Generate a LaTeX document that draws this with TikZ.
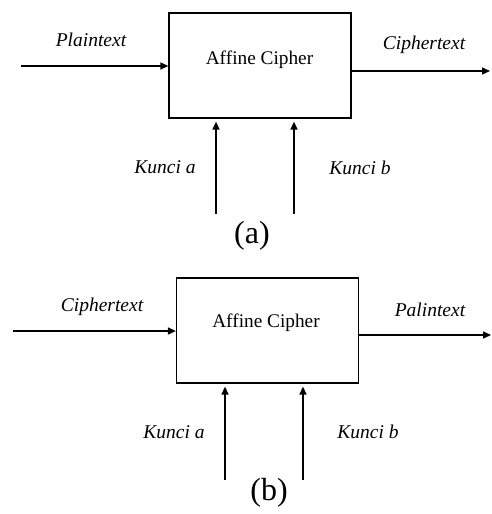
\documentclass[tikz,border=0pt]{standalone}
\usepackage{fontspec}
\setmainfont{Liberation Serif}
\usetikzlibrary{arrows.meta}
\begin{document}
\begin{tikzpicture}[x=1pt,y=-1pt,
  blk/.style={draw,line width=1.2pt,minimum width=182pt,minimum height=105pt,inner sep=0pt},
  arr/.style={line width=1.5pt,-{Triangle[length=8pt,width=7pt]}},
  lbl/.style={font=\fontsize{19.5}{22}\selectfont\itshape,inner sep=0pt},
  ttl/.style={font=\fontsize{19.3}{22}\selectfont,inner sep=0pt},
  subcap/.style={font=\fontsize{32}{36}\selectfont,inner sep=0pt}]
\useasboundingbox (0,0) rectangle (491,514);
% (a)
\node[blk] (boxA) at (260,65.5) {};
\node[ttl] (tA) at (259.5,60) {Affine Cipher};
\coordinate (inA) at (21,66);
\coordinate (outA) at (490,71);
\coordinate (kaA) at (216,214);
\coordinate (kbA) at (294,214);
\draw[arr] (inA) -- (inA -| boxA.west);
\draw[arr] (outA -| boxA.east) -- (outA);
\draw[arr,shorten >=3pt] (kaA) -- (kaA |- boxA.south);
\draw[arr,shorten >=3pt] (kbA) -- (kbA |- boxA.south);
\node[lbl] (pA) at (91,40) {Plaintext};
\node[lbl] (cA) at (424,45) {Ciphertext};
\node[lbl] (kaLA) at (165,167) {Kunci a};
\node[lbl] (kbLA) at (360,168) {Kunci b};
\node[subcap] (capA) at (252,236) {(a)};
% (b)
\node[blk] (boxB) at (267.5,330.5) {};
\node[ttl] (tB) at (266,323) {Affine Cipher};
\coordinate (inB) at (13,331);
\coordinate (outB) at (491,335);
\coordinate (kaB) at (225,480);
\coordinate (kbB) at (303,480);
\draw[arr] (inB) -- (inB -| boxB.west);
\draw[arr] (outB -| boxB.east) -- (outB);
\draw[arr,shorten >=3pt] (kaB) -- (kaB |- boxB.south);
\draw[arr,shorten >=3pt] (kbB) -- (kbB |- boxB.south);
\node[lbl] (cB) at (102,307) {Ciphertext};
\node[lbl] (pB) at (430,310) {Palintext};
\node[lbl] (kaLB) at (174,432) {Kunci a};
\node[lbl] (kbLB) at (368,432) {Kunci b};
\node[subcap] (capB) at (269,493) {(b)};
\end{tikzpicture}
\end{document}
